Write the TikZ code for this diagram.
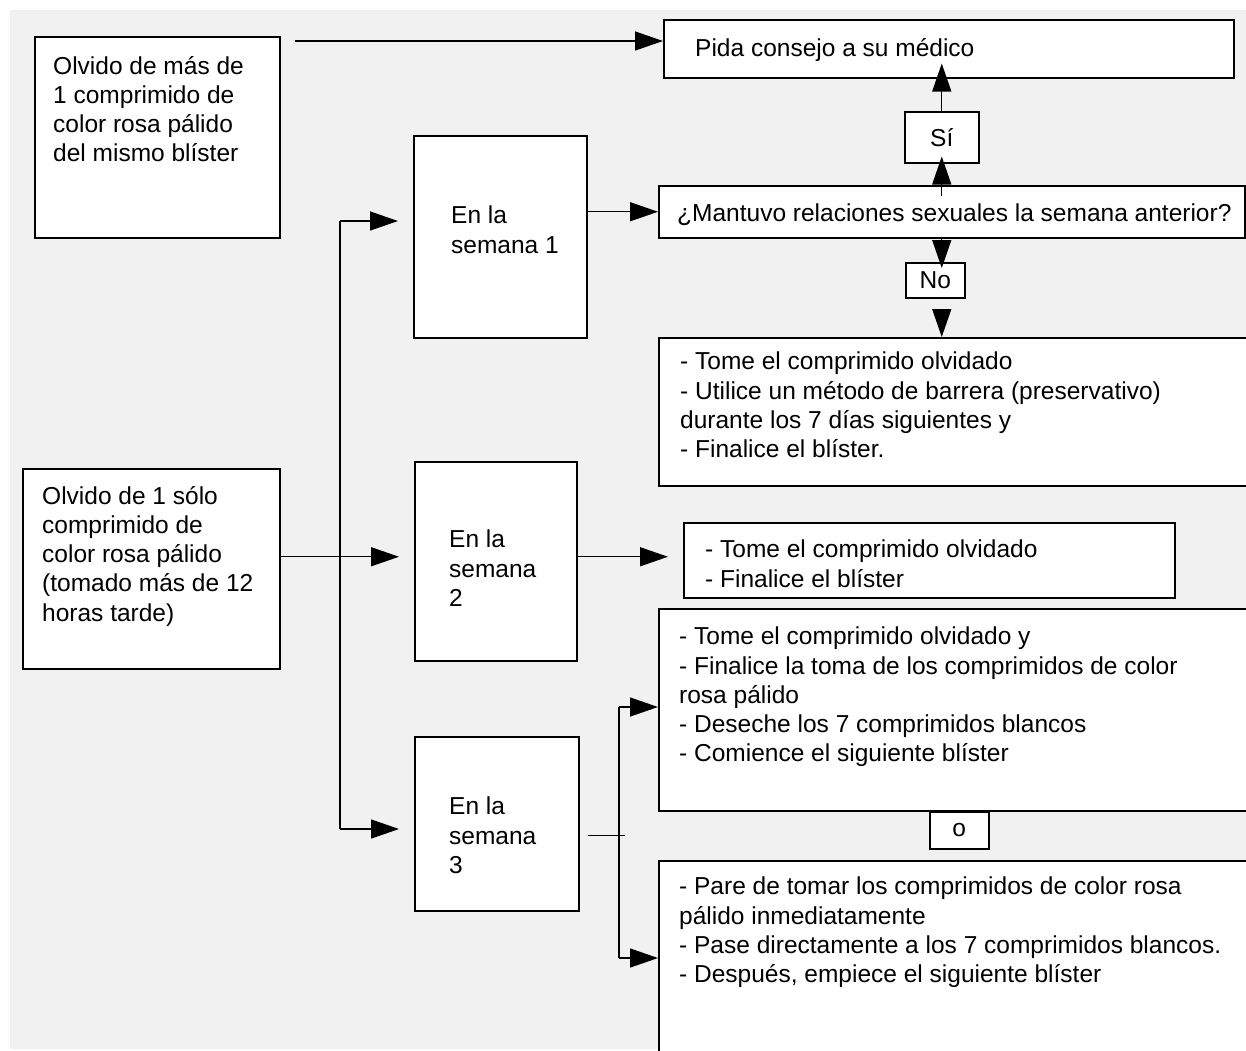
\documentclass[tikz,border=0pt]{standalone}
\usepackage{fontspec}
\setmainfont{Liberation Sans}
\usetikzlibrary{arrows.meta, positioning, calc}
\definecolor{bggray}{RGB}{241, 241, 241}
\newcommand{\flowfont}{\fontsize{24.5}{29.2}\selectfont}

\begin{document}
\begin{tikzpicture}[
    x=1pt, y=-1pt,
    box/.style={draw, line width=1.5pt, fill=white, anchor=north west, inner sep=0pt, font=\flowfont},
    txt/.style={anchor=north west, inner sep=0pt, align=left, font=\flowfont},
    arrow/.style={-{Triangle[length=28pt, width=19pt]}, line width=1.4pt},
    link/.style={line width=1.4pt}
]
    \useasboundingbox (0,0) rectangle (1246,1050);
    \fill[white] (0,0) rectangle (1246,1050);
    \fill[bggray] (10,10) rectangle (1246,1049);

    % Boxes - left column
    \node[box, minimum width=245pt, minimum height=201pt] (masuno) at (34,36) {};
    \node[box, minimum width=257pt, minimum height=200pt] (solo) at (22,468) {};

    % Boxes - weeks
    \node[box, minimum width=173pt, minimum height=202pt] (sem1) at (413,135) {};
    \node[box, minimum width=162pt, minimum height=199pt] (sem2) at (414,461) {};
    \node[box, minimum width=164pt, minimum height=174pt] (sem3) at (414,736) {};

    % Boxes - right column
    \node[box, minimum width=570pt, minimum height=58pt] (medico) at (663,19) {};
    \node[box, minimum width=74pt, minimum height=51pt] (si) at (904,111) {Sí};
    \node[box, minimum width=586pt, minimum height=52pt] (mantuvo) at (658,185) {};
    \node[box, minimum width=59pt, minimum height=35pt] (no) at (905,262) {No};
    \node[box, minimum width=620pt, minimum height=148pt] (tome1) at (658,337) {};
    \node[box, minimum width=491pt, minimum height=75pt] (tome2) at (683,522) {};
    \node[box, minimum width=620pt, minimum height=202pt] (tome3) at (658,608) {};
    \node[box, minimum width=59pt, minimum height=37pt] (obox) at (929,811) {o};
    \node[box, minimum width=620pt, minimum height=210pt] (pare) at (658,860) {};

    % Texts
    \node[txt, below right=20pt and 19pt of masuno.north west] (masuno-t) {Olvido de más de\\1 comprimido de\\color rosa pálido\\del mismo blíster};
    \node[txt, below right=18pt and 20pt of solo.north west] (solo-t) {Olvido de 1 sólo\\comprimido de\\color rosa pálido\\(tomado más de 12\\horas tarde)};
    \node[txt, below right=71pt and 38pt of sem1.north west] (sem1-t) {En la\\semana 1};
    \node[txt, below right=69pt and 35pt of sem2.north west] (sem2-t) {En la\\semana\\2};
    \node[txt, below right=61pt and 35pt of sem3.north west] (sem3-t) {En la\\semana\\3};
    \node[txt, below right=19pt and 32pt of medico.north west] (medico-t) {Pida consejo a su médico};
    \node[txt, below right=19pt and 19pt of mantuvo.north west] (mantuvo-t) {¿Mantuvo relaciones sexuales la semana anterior?};
    \node[txt, below right=15pt and 22pt of tome1.north west] (tome1-t) {- Tome el comprimido olvidado\\- Utilice un método de barrera (preservativo)\\durante los 7 días siguientes y\\- Finalice el blíster.};
    \node[txt, below right=18pt and 22pt of tome2.north west] (tome2-t) {- Tome el comprimido olvidado\\- Finalice el blíster};
    \node[txt, below right=19pt and 21pt of tome3.north west] (tome3-t) {- Tome el comprimido olvidado y\\- Finalice la toma de los comprimidos de color\\rosa pálido\\- Deseche los 7 comprimidos blancos\\- Comience el siguiente blíster};
    \node[txt, below right=17pt and 21pt of pare.north west] (pare-t) {- Pare de tomar los comprimidos de color rosa\\pálido inmediatamente\\- Pase directamente a los 7 comprimidos blancos.\\- Después, empiece el siguiente blíster};

    % Arrows - top
    \coordinate (c1) at ($(masuno.north east)+(14,5)$);
    \draw[arrow] (c1) -- (c1 -| medico.west);
    \draw[arrow] (si.north) -- ($(si.north |- medico.south)+(0,-15)$);
    \draw[arrow] ($(si.south |- mantuvo.north)+(0,11)$) -- ($(si.south)+(0,-7)$);
    \draw[arrow] (si.south |- mantuvo.south) -- ($(si.south |- no.north)+(0,6)$);
    \coordinate (c3) at ($(si.south |- no.south)+(0,13)$);
    \draw[arrow] (c3) -- (c3 |- tome1.north);
    \draw[arrow] (sem1.east |- mantuvo.west) -- (mantuvo.west);

    % Arrows - weeks
    \coordinate (t1) at (340,221);
    \coordinate (t3) at (340,829);
    \coordinate (t2) at ($(solo.east)+(0,-12)$);
    \draw[link] (t1) -- (t3);
    \draw[arrow] (t1) -- ($(t1 -| sem1.west)+(-15,0)$);
    \draw[arrow] (t2) -- ($(t2 -| sem2.west)+(-15,0)$);
    \draw[arrow] (t3) -- ($(t3 -| sem3.west)+(-15,0)$);
    \draw[arrow] (sem2.east |- t2) -- ($(t2 -| tome2.west)+(-15,0)$);

    % Arrows - week 3 choice
    \coordinate (f0) at ($(sem3.east)+(8,12)$);
    \coordinate (f1) at (619,707);
    \coordinate (f2) at (619,958);
    \draw[link] (f0) -- ++(37,0);
    \draw[link] (f1) -- (f2);
    \draw[arrow] (f1) -- (f1 -| tome3.west);
    \draw[arrow] (f2) -- (f2 -| pare.west);
\end{tikzpicture}
\end{document}
